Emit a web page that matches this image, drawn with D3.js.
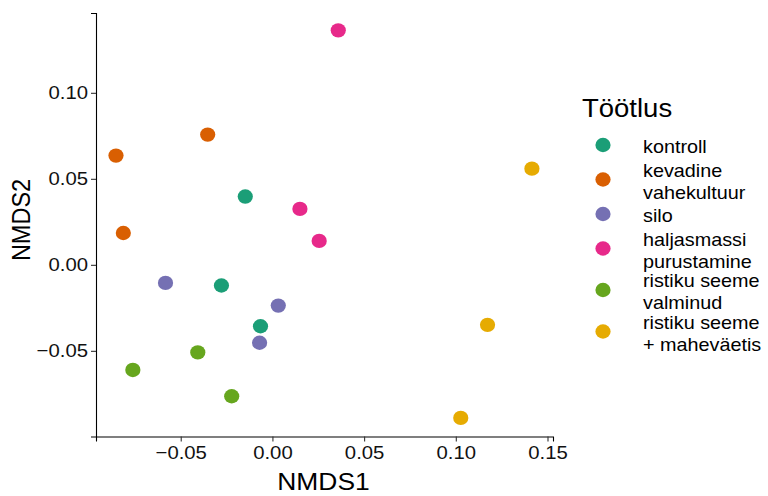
<!DOCTYPE html>
<html><head><meta charset="utf-8">
<script src="https://cdn.jsdelivr.net/npm/d3@7"></script>
<style>body{margin:0;background:#fff}svg{display:block}</style>
</head><body>
<script>
const groups = ["kontroll","kevadine vahekultuur","silo","haljasmassi purustamine","ristiku seeme valminud","ristiku seeme + maheväetis"];
const legendLines = [["kontroll"],["kevadine","vahekultuur"],["silo"],["haljasmassi","purustamine"],["ristiku seeme","valminud"],["ristiku seeme","+ maheväetis"]];
const colors = ["#1B9E77","#D95F02","#7570B3","#E7298A","#66A61E","#E6AB02"];
const pointGroup = [0,0,0, 1,1,1, 2,2,2, 3,3,3, 4,4,4, 5,5,5];
const nmds1 = [-0.0148,-0.0278,-0.0065, -0.0853,-0.0353,-0.0813, -0.0583,0.0032,-0.0070, 0.0359,0.0150,0.0255, -0.0761,-0.0407,-0.0222, 0.1415,0.1173,0.1027];
const nmds2 = [0.0397,-0.0120,-0.0357, 0.0635,0.0757,0.0185, -0.0105,-0.0237,-0.0453, 0.1363,0.0325,0.0139, -0.0611,-0.0509,-0.0764, 0.0559,-0.0349,-0.0890];
const xTicks = [-0.05,0,0.05,0.10,0.15];
const yTicks = [-0.05,0,0.05,0.10];

const W=768,H=496;
const SX=1.1;
const svg=d3.select("body").append("svg").attr("width",W).attr("height",H);
const font="'Liberation Sans', Arial, sans-serif";
const x=d3.scaleLinear().domain([-0.0962,0.153]).range([96,553]);
const y=d3.scaleLinear().domain([-0.0998,0.1464]).range([436.5,13]);

function stretch(sel, sx){
  sel.each(function(){
    const t=d3.select(this);
    const px=+t.attr("x")||0, py=+t.attr("y")||0;
    t.attr("transform",`translate(${px},${py}) scale(${sx},1) translate(${-px},${-py})`);
  });
}

const xa=svg.append("g").attr("transform","translate(0,436.5)")
  .call(d3.axisBottom(x).tickValues(xTicks).tickFormat(d3.format(".2f")).tickSizeOuter(0).tickSize(5).tickPadding(4));
const ya=svg.append("g").attr("transform","translate(96,0)")
  .call(d3.axisLeft(y).tickValues(yTicks).tickFormat(d3.format(".2f")).tickSizeOuter(0).tickSize(5).tickPadding(3));
[xa,ya].forEach(a=>{
  a.select(".domain").attr("stroke","#000").attr("stroke-width",1.1);
  a.selectAll(".tick line").attr("stroke","#333").attr("stroke-width",1.1);
  a.selectAll(".tick text").attr("fill","#111").style("font-family",font).style("font-size","19px");
});
ya.selectAll(".tick text").each(function(){
  const t=d3.select(this); const px=+t.attr("x");
  t.attr("transform",`translate(${px},0) scale(1.07,1) translate(${-px},0)`);
});
xa.selectAll(".tick text").attr("transform","scale(1.07,1)");

svg.append("g").selectAll("ellipse").data(nmds1.map((v,i)=>i)).join("ellipse")
  .attr("cx",i=>x(nmds1[i])).attr("cy",i=>y(nmds2[i]))
  .attr("rx",7.6).attr("ry",7.2).attr("fill",i=>colors[pointGroup[i]]);

stretch(svg.append("text").attr("x",323.5).attr("y",490).attr("text-anchor","middle")
  .style("font-family",font).style("font-size","24px").text("NMDS1"), SX);
svg.append("text").attr("transform",`translate(30,220) scale(${SX},1) rotate(-90)`).attr("text-anchor","middle")
  .style("font-family",font).style("font-size","23.5px").text("NMDS2");

// legend
stretch(svg.append("text").attr("x",582).attr("y",117).style("font-family",font).style("font-size","25px").text("Töötlus"), SX);
const keyY=[145,179.5,214,248.5,290,331.5];
const lg=svg.append("g");
groups.forEach((g,i)=>{
  lg.append("ellipse").attr("cx",603).attr("cy",keyY[i]).attr("rx",7.6).attr("ry",7.2).attr("fill",colors[i]);
  const lines=legendLines[i];
  const n=lines.length, ls=21.7;
  lines.forEach((t,j)=>{
    const tx=lg.append("text").attr("x",643).attr("y",keyY[i]+2+(j-(n-1)/2)*ls).attr("dy","0.35em")
      .style("font-family",font).style("font-size","18px").attr("fill","#000").text(t);
    stretch(tx, SX);
  });
});
</script>
</body></html>
